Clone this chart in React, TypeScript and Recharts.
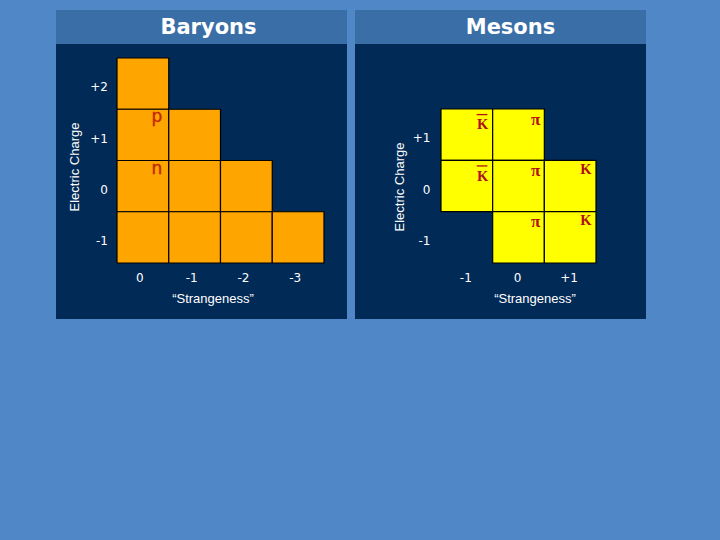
import React from 'react';
import { ScatterChart, Scatter, XAxis, YAxis, ReferenceArea, Label } from 'recharts';

// ---------- data ----------
const baryonCellS = [0, 0, 0, 0, -1, -1, -1, -2, -2, -3];
const baryonCellQ = [2, 1, 0, -1, 1, 0, -1, 0, -1, -1];
const baryonLabelS = [0, 0];
const baryonLabelQ = [1, 0];
const baryonLabelText = ['p', 'n'];
const baryonXTicks = [0, -1, -2, -3];
const baryonXTickLabels = ['0', '-1', '-2', '-3'];
const baryonYTicks = [2, 1, 0, -1];
const baryonYTickLabels = ['+2', '+1', '0', '-1'];

const mesonCellS = [-1, 0, -1, 0, 1, 0, 1];
const mesonCellQ = [1, 1, 0, 0, 0, -1, -1];
const mesonLabelS = [-1, 0, -1, 0, 1, 0, 1];
const mesonLabelQ = [1, 1, 0, 0, 0, -1, -1];
const mesonLabelText = ['K', 'π', 'K', 'π', 'K', 'π', 'K'];
const mesonLabelBar = [true, false, true, false, false, false, false];
const mesonXTicks = [-1, 0, 1];
const mesonXTickLabels = ['-1', '0', '+1'];
const mesonYTicks = [1, 0, -1];
const mesonYTickLabels = ['+1', '0', '-1'];

// ---------- styles ----------
const BG = '#4f87c7';
const TITLE_BG = '#3a6ea6';
const PANEL_BG = '#012a56';
const SANS = '"DejaVu Sans", Verdana, sans-serif';
const LABEL_FONT = '"Liberation Sans", Arial, sans-serif';
const SERIF = '"Liberation Serif", "Times New Roman", serif';

const makeTick = (ticks: number[], labels: string[], dx: number, dy: number, anchor: string) =>
  (props: any) => {
    const { x, y, payload } = props;
    const idx = ticks.indexOf(payload.value);
    return (
      <text x={x + dx} y={y + dy} textAnchor={anchor} fill="#ffffff" fontSize={12} fontFamily={SANS}>
        {idx >= 0 ? labels[idx] : ''}
      </text>
    );
  };

const baryonLabelShape = (props: any) => {
  const { cx, cy, payload } = props;
  return (
    <text x={cx - 6.5} y={cy + 13} textAnchor="end" fill="#c02808" fontSize={17} fontFamily={SANS}
      stroke="#c02808" strokeWidth={0.4}>
      {payload.text}
    </text>
  );
};

const mesonLabelShape = (props: any) => {
  const { cx, cy, payload } = props;
  const red = '#b0101a';
  if (payload.text === 'π') {
    return (
      <text x={cx - 4} y={cy + 15.5} textAnchor="end" fill={red} fontSize={17} fontWeight="bold" fontFamily={SERIF}>
        π
      </text>
    );
  }
  if (payload.bar) {
    return (
      <g>
        <line x1={cx - 16} x2={cx - 5.3} y1={cy + 5.6} y2={cy + 5.6} stroke={red} strokeWidth={1.3} />
        <text x={cx - 4.5} y={cy + 20.3} textAnchor="end" fill={red} fontSize={14.5} fontWeight="bold" fontFamily={SERIF}>
          {payload.text}
        </text>
      </g>
    );
  }
  return (
    <text x={cx - 4.5} y={cy + 13.5} textAnchor="end" fill={red} fontSize={14.5} fontWeight="bold" fontFamily={SERIF}>
      {payload.text}
    </text>
  );
};

type PanelProps = {
  left: number;
  title: string;
  titleShift: number;
  cellS: number[];
  cellQ: number[];
  cellFill: string;
  labelData: any[];
  labelShape: any;
  xTicks: number[];
  xTickLabels: string[];
  yTicks: number[];
  yTickLabels: string[];
  xDomain: [number, number];
  yDomain: [number, number];
  reversed: boolean;
  marginTop: number;
  marginRight: number;
  yAxisWidth: number;
  xTickDx: number;
  yTickDx: number;
  xTitleDx: number;
  yTitleX: number;
  yTitleDy: number;
};

function Panel(p: PanelProps) {
  const W = 291;
  const H = 275;
  return (
    <div style={{ position: 'absolute', left: p.left, top: 10, width: W, height: 309, background: PANEL_BG }}>
      <div
        style={{
          height: 34,
          lineHeight: '34px',
          background: TITLE_BG,
          color: '#ffffff',
          fontFamily: SANS,
          fontWeight: 'bold',
          fontSize: 21,
          textAlign: 'center',
          paddingLeft: p.titleShift * 2,
          boxSizing: 'border-box',
        }}
      >
        {p.title}
      </div>
      <ScatterChart
        width={W}
        height={H}
        margin={{ top: p.marginTop, right: p.marginRight, bottom: 0, left: 0 }}
      >
        <XAxis
          type="number"
          dataKey="x"
          domain={p.xDomain}
          ticks={p.xTicks}
          reversed={p.reversed}
          axisLine={false}
          tickLine={false}
          tickSize={0}
          tickMargin={0}
          height={56}
          interval={0}
          tick={makeTick(p.xTicks, p.xTickLabels, p.xTickDx, 19, 'middle')}
        >
          <Label
            content={(lp: any) => {
              const vb = lp.viewBox || { x: 0, y: 0, width: 0, height: 0 };
              return (
                <text
                  x={vb.x + vb.width / 2 + p.xTitleDx}
                  y={vb.y + 40}
                  textAnchor="middle"
                  fill="#ffffff"
                  fontSize={13}
                  fontFamily={LABEL_FONT}
                >
                  “Strangeness”
                </text>
              );
            }}
          />
        </XAxis>
        <YAxis
          type="number"
          dataKey="y"
          domain={p.yDomain}
          ticks={p.yTicks}
          axisLine={false}
          tickLine={false}
          tickSize={0}
          tickMargin={0}
          width={p.yAxisWidth}
          interval={0}
          tick={makeTick(p.yTicks, p.yTickLabels, p.yTickDx, 7.8, 'end')}
        >
          <Label
            content={(lp: any) => {
              const vb = lp.viewBox || { x: 0, y: 0, width: 0, height: 0 };
              const tx = vb.x + p.yTitleX;
              const ty = vb.y + vb.height / 2 + p.yTitleDy;
              return (
                <text
                  x={tx}
                  y={ty}
                  transform={`rotate(-90, ${tx}, ${ty})`}
                  textAnchor="middle"
                  fill="#ffffff"
                  fontSize={13}
                  fontFamily={LABEL_FONT}
                >
                  Electric Charge
                </text>
              );
            }}
          />
        </YAxis>
        {p.cellS.map((s, i) => (
          <ReferenceArea
            key={`c${i}`}
            x1={s - 0.5}
            x2={s + 0.5}
            y1={p.cellQ[i] - 0.5}
            y2={p.cellQ[i] + 0.5}
            fill={p.cellFill}
            fillOpacity={1}
            stroke="#000000"
            strokeWidth={1.2}
            ifOverflow="visible"
          />
        ))}
        <Scatter data={p.labelData} shape={p.labelShape} isAnimationActive={false} />
      </ScatterChart>
    </div>
  );
}

export default function App() {
  const baryonLabelData = baryonLabelS.map((s, i) => ({
    x: s - 0.5,
    y: baryonLabelQ[i] + 0.5,
    text: baryonLabelText[i],
  }));
  const mesonLabelData = mesonLabelS.map((s, i) => ({
    x: s + 0.5,
    y: mesonLabelQ[i] + 0.5,
    text: mesonLabelText[i],
    bar: mesonLabelBar[i],
  }));
  return (
    <div style={{ position: 'absolute', left: 0, top: 0, width: 720, height: 540, background: BG, overflow: 'hidden' }}>
      <Panel
        left={56}
        title="Baryons"
        titleShift={7}
        cellS={baryonCellS}
        cellQ={baryonCellQ}
        cellFill="#ffa500"
        labelData={baryonLabelData}
        labelShape={baryonLabelShape}
        xTicks={baryonXTicks}
        xTickLabels={baryonXTickLabels}
        yTicks={baryonYTicks}
        yTickLabels={baryonYTickLabels}
        xDomain={[-3.5, 0.5]}
        yDomain={[-1.5, 2.5]}
        reversed={true}
        marginTop={14}
        marginRight={23}
        yAxisWidth={61}
        xTickDx={-3}
        yTickDx={-9}
        xTitleDx={-7.5}
        yTitleX={23}
        yTitleDy={6.5}
      />
      <Panel
        left={355}
        title="Mesons"
        titleShift={10}
        cellS={mesonCellS}
        cellQ={mesonCellQ}
        cellFill="#ffff00"
        labelData={mesonLabelData}
        labelShape={mesonLabelShape}
        xTicks={mesonXTicks}
        xTickLabels={mesonXTickLabels}
        yTicks={mesonYTicks}
        yTickLabels={mesonYTickLabels}
        xDomain={[-1.5, 1.5]}
        yDomain={[-1.5, 1.5]}
        reversed={false}
        marginTop={65}
        marginRight={50}
        yAxisWidth={86}
        xTickDx={-1}
        yTickDx={-10.5}
        xTitleDx={16.5}
        yTitleX={49}
        yTitleDy={1}
      />
    </div>
  );
}
